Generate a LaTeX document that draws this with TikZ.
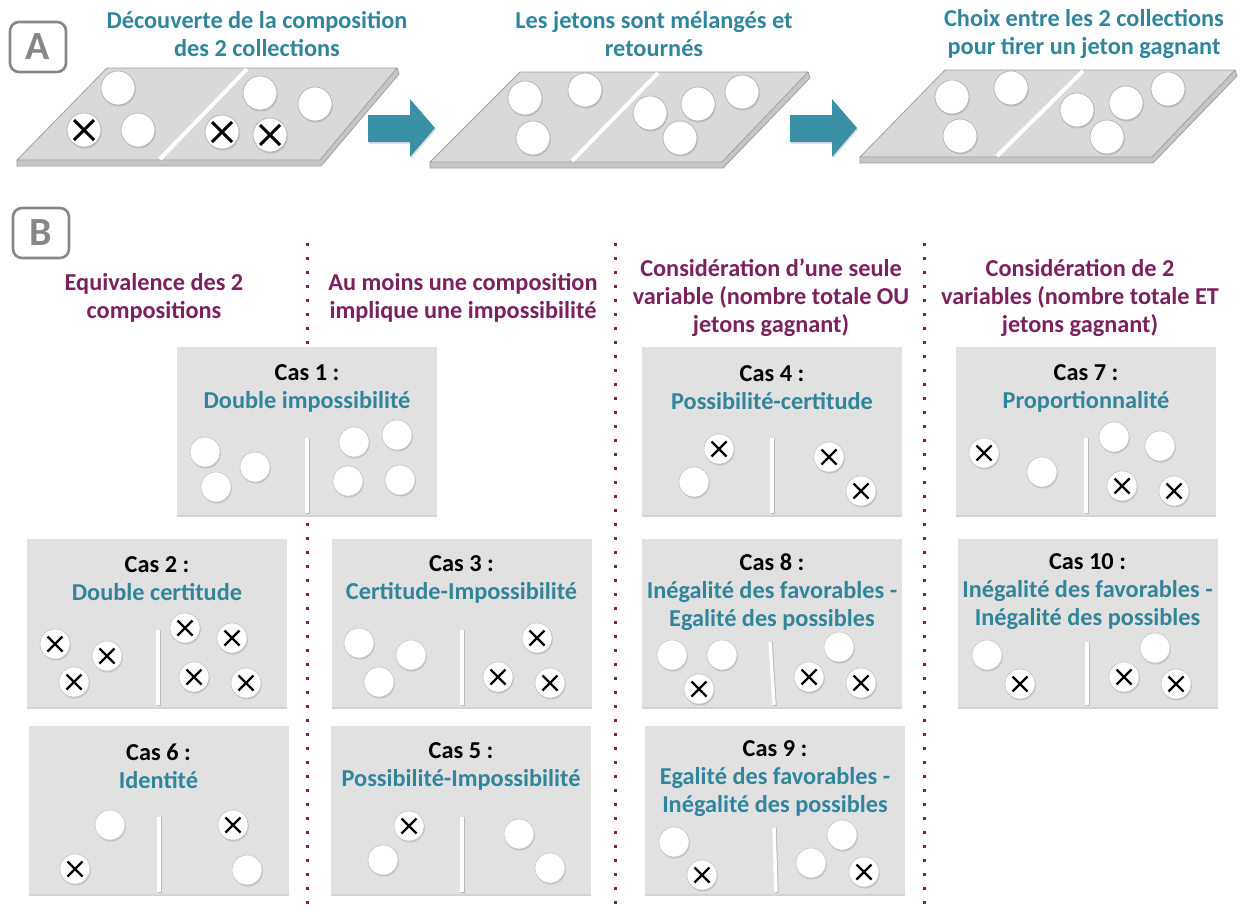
\documentclass[tikz,border=0pt]{standalone}
\usepackage{fontspec}
\setmainfont{Carlito}
\usetikzlibrary{shadows}
\definecolor{tealc}{RGB}{49,133,155}
\definecolor{arrowc}{RGB}{58,145,166}
\definecolor{purp}{RGB}{122,33,94}
\definecolor{boxgray}{RGB}{225,225,225}
\definecolor{plategray}{RGB}{217,217,217}
\definecolor{plateedge}{RGB}{160,160,160}
\definecolor{lblgray}{RGB}{135,135,135}
\begin{document}
\begin{tikzpicture}[x=1pt,y=-1pt,
  lbl/.style={draw=lblgray, line width=2.6pt, rounded corners=9pt, minimum width=56pt, minimum height=50pt, text=lblgray, inner sep=0pt, font=\fontsize{40}{40}\selectfont\bfseries},
  atitle/.style={text=tealc, align=center, font=\fontsize{24.3}{28}\selectfont\bfseries},
  head/.style={text=purp, align=center, font=\fontsize{24.3}{28}\selectfont\bfseries},
  casetitle/.style={text=black, align=center, font=\fontsize{24.3}{28}\selectfont\bfseries},
  casebox/.style={fill=boxgray, draw=none, minimum width=260pt, minimum height=168pt, inner sep=0pt,
    drop shadow={shadow xshift=0pt, shadow yshift=-2pt, opacity=0.35}},
  tokA/.style={circle, fill=white, draw=gray!60, line width=0.7pt, minimum size=34pt, inner sep=0pt,
    drop shadow={shadow xshift=0.8pt, shadow yshift=-1.5pt, opacity=0.3}},
  tokB/.style={circle, fill=white, draw=gray!45, line width=0.6pt, minimum size=30pt, inner sep=0pt,
    drop shadow={shadow xshift=0.8pt, shadow yshift=-1.5pt, opacity=0.3}},
  o/.style={},
  xA/.style={path picture={\draw[line width=3pt, black]
     ([shift={(-10pt,-10pt)}]path picture bounding box.center) -- ([shift={(10pt,10pt)}]path picture bounding box.center)
     ([shift={(-10pt,10pt)}]path picture bounding box.center) -- ([shift={(10pt,-10pt)}]path picture bounding box.center);}},
  xB/.style={path picture={\draw[line width=2.2pt, black]
     ([shift={(-7.5pt,-7.5pt)}]path picture bounding box.center) -- ([shift={(7.5pt,7.5pt)}]path picture bounding box.center)
     ([shift={(-7.5pt,7.5pt)}]path picture bounding box.center) -- ([shift={(7.5pt,-7.5pt)}]path picture bounding box.center);}},
  platetop/.style={fill=plategray, draw=plateedge, line width=0.8pt, line join=round},
  plateside/.style={fill=gray!45, draw=plateedge, line width=0.8pt, line join=round},
  platediv/.style={draw=white, line width=4pt},
  cdiv/.style={draw=white, line width=3.5pt},
  cdivsh/.style={draw=gray!55, line width=3.5pt},
  arr/.style={fill=arrowc, draw=none, drop shadow={shadow xshift=1pt, shadow yshift=-2pt, opacity=0.25}},
  dotline/.style={draw=purp, line width=3pt, dash pattern=on 3pt off 11pt}
]
\useasboundingbox (0,0) rectangle (1247,913);

% ---------------- Panel A ----------------
\node[lbl] (labA) at (38,47) {A};
\node[atitle] (tA1) at (257,34) {Découverte de la composition\\des 2 collections};
\node[atitle] (tA2) at (654,34) {Les jetons sont mélangés et\\retournés};
\node[atitle] (tA3) at (1084,34) {Choix entre les 2 collections\\pour tirer un jeton gagnant};

% plate 1
\path[plateside] (17,160) -- (17,166) -- (321,166) -- (399,74) -- (397,68) -- cycle;
\path[platetop] (17,160) -- (320,160) -- (397,68) -- (107,68) -- cycle;
\path[platediv] (247,69) -- (160,159);
% plate 2
\path[plateside] (430,162) -- (430,168) -- (723,168) -- (810,78) -- (808,72) -- cycle;
\path[platetop] (430,162) -- (722,162) -- (808,72) -- (520,72) -- cycle;
\path[platediv] (658,73) -- (572,161);
% plate 3
\path[plateside] (860,157) -- (860,163) -- (1153,163) -- (1237,76) -- (1235,70) -- cycle;
\path[platetop] (860,157) -- (1152,157) -- (1235,70) -- (945,70) -- cycle;
\path[platediv] (1083,71) -- (997,156);

\foreach \x/\y/\s [count=\i] in {118/88/o, 84/130/xA, 138/130/o, 260/93/o, 315/104/o, 222/132/xA, 270/135/xA}
  \node[tokA,\s] (p1t\i) at (\x,\y) {};
\foreach \x/\y [count=\i] in {525/98, 585/90, 533/138, 650/113, 698/104, 742/92, 680/138}
  \node[tokA] (p2t\i) at (\x,\y) {};
\foreach \x/\y [count=\i] in {952/97, 1011/88, 960/136, 1077/110, 1126/103, 1168/89, 1107/137}
  \node[tokA] (p3t\i) at (\x,\y) {};

% arrows
\path[arr] (368,115) -- (410,115) -- (410,99) -- (435,128) -- (410,157) -- (410,142) -- (368,142) -- cycle;
\path[arr] (790,115) -- (832,115) -- (832,99) -- (857,128) -- (832,157) -- (832,142) -- (790,142) -- cycle;

% ---------------- Panel B ----------------
\node[lbl] (labB) at (41,233) {B};

\path[dotline] (307,243) -- (307,913);
\path[dotline] (615,243) -- (615,913);
\path[dotline] (924,243) -- (924,913);

\node[head] (h1) at (154,298) {Equivalence des 2\\compositions};
\node[head] (h2) at (463,298) {Au moins une composition\\implique une impossibilité};
\node[head] (h3) at (771,298) {Considération d’une seule\\variable (nombre totale OU\\jetons gagnant)};
\node[head] (h4) at (1080,298) {Considération de 2\\variables (nombre totale ET\\jetons gagnant)};

% Cas 1
\node[casebox] (c1) at (307,431) {};
\node[casetitle] (c1t) at (307,388) {Cas 1 :\\\textcolor{tealc}{Double impossibilité}};
\path[cdivsh] (308,438) -- (308,514); \path[cdiv] (307,438) -- (307,513);
\foreach \x/\y/\s [count=\i] in {205/452/o, 255/467/o, 216/487/o, 354/442/o, 397/435/o, 348/481/o, 400/480/o}
  \node[tokB,\s] (c1k\i) at (\x,\y) {};

% Cas 2
\node[casebox] (c2) at (157,623) {};
\node[casetitle] (c2t) at (157,579) {Cas 2 :\\\textcolor{tealc}{Double certitude}};
\path[cdivsh] (159,630) -- (159,706); \path[cdiv] (158,630) -- (158,705);
\foreach \x/\y/\s [count=\i] in {55/644/xB, 107/656/xB, 74/682/xB, 185/628/xB, 232/638/xB, 194/677/xB, 246/683/xB}
  \node[tokB,\s] (c2k\i) at (\x,\y) {};

% Cas 3
\node[casebox] (c3) at (461.5,623) {};
\node[casetitle] (c3t) at (461.5,579) {Cas 3 :\\\textcolor{tealc}{Certitude-Impossibilité}};
\path[cdivsh] (463,630) -- (463,706); \path[cdiv] (462,630) -- (462,705);
\foreach \x/\y/\s [count=\i] in {359/643/o, 411/655/o, 379/682/o, 537/638/xB, 498/677/xB, 550/683/xB}
  \node[tokB,\s] (c3k\i) at (\x,\y) {};

% Cas 6
\node[casebox] (c6) at (158.5,810) {};
\node[casetitle] (c6t) at (158.5,766) {Cas 6 :\\\textcolor{tealc}{Identité}};
\path[cdivsh] (160,817) -- (160,893); \path[cdiv] (159,817) -- (159,892);
\foreach \x/\y/\s [count=\i] in {110/825/o, 75/869/xB, 233/825/xB, 247/870/o}
  \node[tokB,\s] (c6k\i) at (\x,\y) {};

% Cas 5
\node[casebox] (c5) at (461,809.5) {};
\node[casetitle] (c5t) at (461,766) {Cas 5 :\\\textcolor{tealc}{Possibilité-Impossibilité}};
\path[cdivsh] (463,817) -- (463,893); \path[cdiv] (462,817) -- (462,892);
\foreach \x/\y/\s [count=\i] in {409/826/xB, 383/860/o, 519/834/o, 550/868/o}
  \node[tokB,\s] (c5k\i) at (\x,\y) {};

% Cas 4
\node[casebox] (c4) at (772,431) {};
\node[casetitle] (c4t) at (772,388) {Cas 4 :\\\textcolor{tealc}{Possibilité-certitude}};
\path[cdivsh] (773,438) -- (773,514); \path[cdiv] (772,438) -- (772,513);
\foreach \x/\y/\s [count=\i] in {719/449/xB, 694/482/o, 829/457/xB, 861/491/xB}
  \node[tokB,\s] (c4k\i) at (\x,\y) {};

% Cas 7
\node[casebox] (c7) at (1086,431) {};
\node[casetitle] (c7t) at (1086,388) {Cas 7 :\\\textcolor{tealc}{Proportionnalité}};
\path[cdivsh] (1087,438) -- (1087,514); \path[cdiv] (1086,438) -- (1086,513);
\foreach \x/\y/\s [count=\i] in {984/453/xB, 1042/472/o, 1114/437/o, 1160/446/o, 1122/486/xB, 1174/491/xB}
  \node[tokB,\s] (c7k\i) at (\x,\y) {};

% Cas 8
\node[casebox] (c8) at (772,623) {};
\node[casetitle] (c8t) at (772,592) {Cas 8 :\\\textcolor{tealc}{Inégalité des favorables -}\\\textcolor{tealc}{Egalité des possibles}};
\path[cdivsh] (771,642) -- (775,706); \path[cdiv] (770,642) -- (774,705);
\foreach \x/\y/\s [count=\i] in {672/655/o, 722/655/o, 699/689/xB, 839/647/o, 809/677/xB, 861/683/xB}
  \node[tokB,\s] (c8k\i) at (\x,\y) {};

% Cas 10
\node[casebox] (c10) at (1087.5,623) {};
\node[casetitle] (c10t) at (1087.5,592) {Cas 10 :\\\textcolor{tealc}{Inégalité des favorables -}\\\textcolor{tealc}{Inégalité des possibles}};
\path[cdivsh] (1088,642) -- (1088,706); \path[cdiv] (1087,642) -- (1087,705);
\foreach \x/\y/\s [count=\i] in {987/655/o, 1020/684/xB, 1155/648/o, 1124/677/xB, 1176/684/xB}
  \node[tokB,\s] (c10k\i) at (\x,\y) {};

% Cas 9
\node[casebox] (c9) at (775,810) {};
\node[casetitle] (c9t) at (775,779) {Cas 9 :\\\textcolor{tealc}{Egalité des favorables -}\\\textcolor{tealc}{Inégalité des possibles}};
\path[cdivsh] (775,828) -- (777,893); \path[cdiv] (774,828) -- (776,892);
\foreach \x/\y/\s [count=\i] in {674/842/o, 702/875/xB, 842/835/o, 811/863/o, 864/872/xB}
  \node[tokB,\s] (c9k\i) at (\x,\y) {};
\end{tikzpicture}
\end{document}
